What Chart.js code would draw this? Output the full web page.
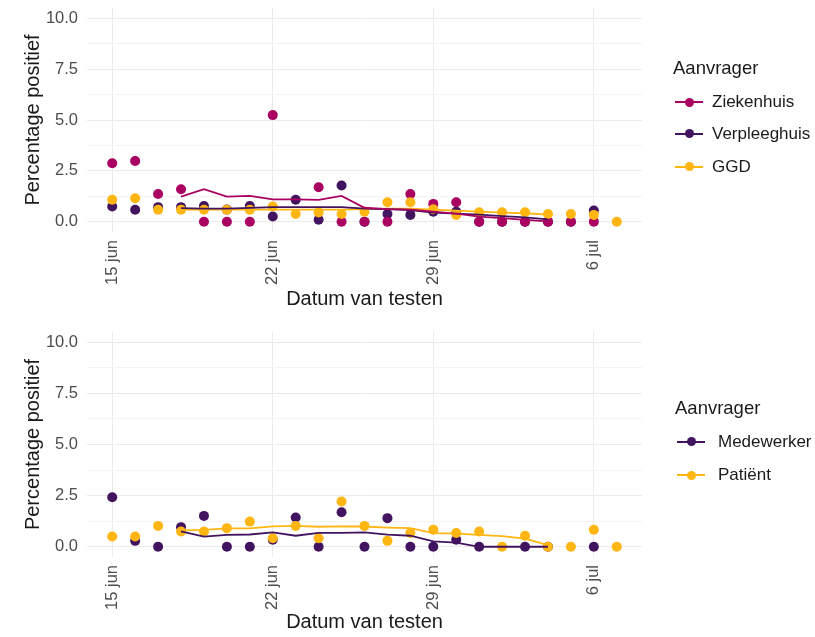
<!DOCTYPE html>
<html>
<head>
<meta charset="utf-8">
<script src="https://cdn.jsdelivr.net/npm/chart.js@4.4.1/dist/chart.umd.min.js"></script>
<style>
  html, body { margin: 0; padding: 0; background: #ffffff; }
  body { width: 815px; height: 637px; position: relative; overflow: hidden;
         font-family: "Liberation Sans", Arial, sans-serif; }
  .panel { position: absolute; left: 0; width: 815px; }
  #p1 { top: 0; height: 324px; }
  #p2 { top: 324px; height: 313px; }
  .lg { position: absolute; color: #1a1a1a; white-space: nowrap; }
  .lg-title { font-size: 18.5px; line-height: 22px; height: 22px; }
  .lg-item { position: absolute; left: 0; height: 22px; line-height: 22px; font-size: 17px; }
  .lg-key { position: absolute; left: 0; top: 0; width: 28px; height: 22px; }
  .lg-line { position: absolute; left: 0; top: 10px; width: 28px; height: 2px; }
  .lg-dot { position: absolute; left: 9.5px; top: 6.5px; width: 9px; height: 9px; border-radius: 50%; }
  .lg-text { position: absolute; top: 0; }
</style>
</head>
<body>
<div class="panel" id="p1"><canvas id="c1" width="815" height="324"></canvas></div>
<div class="panel" id="p2"><canvas id="c2" width="815" height="313"></canvas></div>
<div class="lg" id="lg1"></div>
<div class="lg" id="lg2"></div>
<script>
// ---------- data ----------
const dates = ['15 jun','16 jun','17 jun','18 jun','19 jun','20 jun','21 jun','22 jun','23 jun','24 jun',
               '25 jun','26 jun','27 jun','28 jun','29 jun','30 jun','1 jul','2 jul','3 jul','4 jul',
               '5 jul','6 jul','7 jul'];
const xTickLabels = ['15 jun','22 jun','29 jun','6 jul'];
const yTickLabels = ['0.0','2.5','5.0','7.5','10.0'];
const legendTitle = 'Aanvrager';
const xTitle = 'Datum van testen';
const yTitle = 'Percentage positief';

// top panel
const ziekenhuisLabel = 'Ziekenhuis';
const ziekenhuisPoints = [2.88,2.99,1.37,1.60,0,0,0,5.24,null,1.70,0,0,0,1.37,0.88,0.96,0,0,0,0,0,0,null];
const ziekenhuisLine   = [null,null,null,1.24,1.60,1.24,1.27,1.10,1.10,1.08,1.27,0.69,0.62,0.60,0.50,0.40,0.25,0.18,0.10,0.02,null,null,null];
const verpleeghuisLabel = 'Verpleeghuis';
const verpleeghuisPoints = [0.75,0.59,0.72,0.72,0.78,0.60,0.78,0.26,1.08,0.10,1.78,0,0.38,0.34,0.50,0.50,0,0,0,0,0,0.55,null];
const verpleeghuisLine   = [null,null,null,0.67,0.65,0.65,0.68,0.72,0.72,0.72,0.72,0.65,0.62,0.58,0.45,0.40,0.35,0.28,0.22,0.12,null,null,null];
const ggdLabel = 'GGD';
const ggdPoints = [1.08,1.16,0.59,0.59,0.59,0.59,0.59,0.75,0.38,0.46,0.38,0.50,0.96,0.96,0.62,0.34,0.47,0.47,0.47,0.38,0.38,0.34,0];
const ggdLine   = [null,null,null,0.60,0.60,0.60,0.60,0.60,0.60,0.60,0.60,0.62,0.65,0.65,0.60,0.55,0.50,0.45,0.42,0.35,null,null,null];

// bottom panel
const medewerkerLabel = 'Medewerker';
const medewerkerPoints = [2.42,0.29,0,0.96,1.51,0,0,0.34,1.43,0,1.69,0,1.40,0,0,0.34,0,null,0,0,null,0,null];
const medewerkerLine   = [null,null,null,0.75,0.50,0.58,0.60,0.70,0.54,0.68,0.68,0.70,0.59,0.54,0.26,0.20,0,0,0,0,null,null,null];
const patientLabel = 'Patiënt';
const patientPoints = [0.50,0.50,1.02,0.75,0.75,0.91,1.23,0.42,1.02,0.42,2.21,1.02,0.29,0.67,0.83,0.67,0.75,0,0.54,0,0,0.83,0];
const patientLine   = [null,null,null,0.80,0.83,0.90,0.90,1.00,1.02,0.98,1.00,0.99,0.94,0.91,0.67,0.64,0.58,0.52,0.40,0.08,null,null,null];

const colMagenta = '#A90061';
const colPurple  = '#42145F';
const colYellow  = '#FFB612';

// ---------- helpers ----------
const toXY = arr => arr.map((v, i) => (v === null ? null : { x: i, y: v })).filter(p => p !== null);
const yMajor = yTickLabels.map(parseFloat);
const yAll = [];
yMajor.forEach((v, i) => { yAll.push(v); if (i < yMajor.length - 1) yAll.push((v + yMajor[i + 1]) / 2); });
const xTicks = xTickLabels.map(l => dates.indexOf(l));

function buildDatasets(series) {
  const ds = [];
  series.forEach((s) => {
    ds.push({ type: 'line', label: s.label + ' lijn', data: toXY(s.line), borderColor: s.color,
      borderWidth: 1.8, pointRadius: 0, pointHoverRadius: 0, fill: false, tension: 0, order: 0 });
    ds.push({ type: 'scatter', label: s.label, data: toXY(s.points), backgroundColor: s.color,
      borderWidth: 0, pointRadius: 5, pointHoverRadius: 5, order: 10 - s.z });
  });
  return ds;
}

function makeChart(id, series, xAxisHeight, xTitlePadBottom) {
  return new Chart(document.getElementById(id), {
    data: { datasets: buildDatasets(series) },
    options: {
      responsive: false, animation: false, events: [],
      layout: { padding: { top: 8, right: 173, left: 0, bottom: 0 } },
      plugins: { legend: { display: false }, tooltip: { enabled: false } },
      scales: {
        x: {
          type: 'linear', min: -1.1, max: 23.1,
          afterBuildTicks: s => { s.ticks = xTicks.map(v => ({ value: v })); },
          afterFit: s => { s.height = xAxisHeight; s.paddingLeft = 0; s.paddingRight = 0; },
          border: { display: false },
          grid: { color: '#EBEBEB', lineWidth: 1, drawTicks: false },
          ticks: {
            autoSkip: false, minRotation: 90, maxRotation: 90, padding: 8,
            color: '#4D4D4D', font: { family: 'Liberation Sans', size: 16.5 },
            callback: v => dates[v]
          },
          title: { display: true, text: xTitle, color: '#1a1a1a',
                   font: { family: 'Liberation Sans', size: 20 }, padding: { top: 0, bottom: xTitlePadBottom } }
        },
        y: {
          type: 'linear', min: -0.5, max: 10.5,
          afterBuildTicks: s => { s.ticks = yAll.map(v => ({ value: v })); },
          afterFit: s => { s.width = 87; s.paddingTop = 0; s.paddingBottom = 0; },
          border: { display: false },
          grid: { color: c => (yMajor.includes(c.tick.value) ? '#EBEBEB' : '#F3F3F3'), lineWidth: 1, drawTicks: false },
          ticks: {
            autoSkip: false, padding: 9, color: '#4D4D4D', font: { family: 'Liberation Sans', size: 16.5 },
            callback: v => { const i = yMajor.indexOf(v); return i >= 0 ? yTickLabels[i] : ''; }
          },
          title: { display: true, text: yTitle, color: '#1a1a1a',
                   font: { family: 'Liberation Sans', size: 20 }, padding: { top: 21, bottom: 0 } }
        }
      }
    }
  });
}

function buildLegend(id, series, left, titleCenter, itemCenters, textOffset) {
  const el = document.getElementById(id);
  el.style.left = left + 'px';
  el.style.top = '0px';
  const t = document.createElement('div');
  t.className = 'lg-title';
  t.style.position = 'absolute';
  t.style.top = (titleCenter - 11) + 'px';
  t.style.left = '-2px';
  t.textContent = legendTitle;
  el.appendChild(t);
  series.forEach((s, i) => {
    const it = document.createElement('div');
    it.className = 'lg-item';
    it.style.top = (itemCenters[i] - 11) + 'px';
    it.innerHTML = '<div class="lg-key"><div class="lg-line" style="background:' + s.color +
      '"></div><div class="lg-dot" style="background:' + s.color + '"></div></div>' +
      '<div class="lg-text" style="left:' + textOffset + 'px"></div>';
    it.querySelector('.lg-text').textContent = s.label;
    el.appendChild(it);
  });
}

const topSeries = [
  { label: ziekenhuisLabel, points: ziekenhuisPoints, line: ziekenhuisLine, color: colMagenta, z: 2 },
  { label: verpleeghuisLabel, points: verpleeghuisPoints, line: verpleeghuisLine, color: colPurple, z: 1 },
  { label: ggdLabel, points: ggdPoints, line: ggdLine, color: colYellow, z: 3 }
];
const bottomSeries = [
  { label: medewerkerLabel, points: medewerkerPoints, line: medewerkerLine, color: colPurple, z: 1 },
  { label: patientLabel, points: patientPoints, line: patientLine, color: colYellow, z: 2 }
];

makeChart('c1', topSeries, 92, 13);
makeChart('c2', bottomSeries, 80, 3);
buildLegend('lg1', topSeries, 675, 68, [102, 133.5, 166.5], 37);
buildLegend('lg2', bottomSeries, 677, 408, [441.5, 475], 41);
</script>
</body>
</html>
